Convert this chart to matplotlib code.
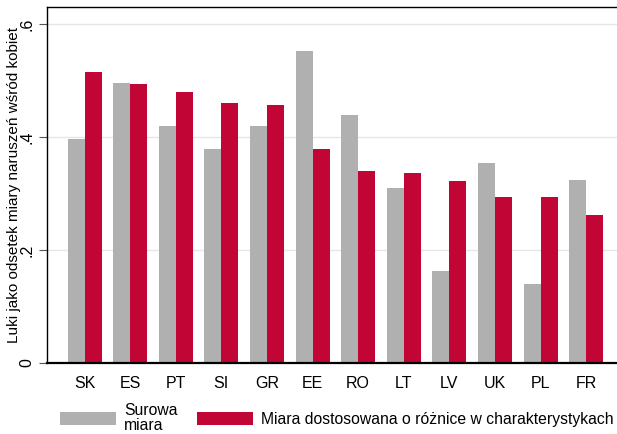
import numpy as np
import matplotlib.pyplot as plt

plt.rcParams['font.family'] = ['Liberation Sans', 'DejaVu Sans']

countries = ["SK", "ES", "PT", "SI", "GR", "EE", "RO", "LT", "LV", "UK", "PL", "FR"]
raw = [0.396, 0.496, 0.419, 0.379, 0.419, 0.552, 0.439, 0.310, 0.163, 0.354, 0.140, 0.324]
adjusted = [0.515, 0.493, 0.480, 0.460, 0.457, 0.379, 0.340, 0.336, 0.322, 0.294, 0.294, 0.262]
labels = ["Surowa\nmiara", "Miara dostosowana o różnice w charakterystykach"]
yticks = [0, 0.2, 0.4, 0.6]
ytick_labels = ["0", ".2", ".4", ".6"]

grey = "#b0b0b0"
red = "#c10534"

W, H = 617, 434
fig = plt.figure(figsize=(W / 100, H / 100), dpi=100)
# axes runs slightly past the right edge of the picture, as in the original
ax = fig.add_axes([47.3 / W, 71 / H, (624 - 47.3) / W, 356 / H])

x = np.arange(len(countries))
w = 0.373
ax.bar(x - w / 2, raw, width=w, color=grey, label=labels[0], zorder=2)
ax.bar(x + w / 2, adjusted, width=w, color=red, label=labels[1], zorder=2)

ax.set_xlim(-0.816, 11.83)
ax.set_ylim(0, 0.630)
ax.set_yticks(yticks)
ax.set_yticklabels(ytick_labels, rotation=90, va="center", fontsize=11.5)
ax.set_xticks(x)
ax.set_xticklabels(countries, fontsize=11.5)
ax.tick_params(axis="x", length=0, pad=9)
ax.tick_params(axis="y", length=6, color="#555555", pad=3)
ax.grid(axis="y", color="#e6e6e6", linewidth=1, zorder=0)
ax.set_ylabel("Luki jako odsetek miary naruszeń wśród kobiet", fontsize=11)
ax.yaxis.set_label_coords(-0.046, 0.5)

ax.spines["right"].set_visible(False)
ax.spines["bottom"].set_linewidth(1.6)
for s in ["left", "top"]:
    ax.spines[s].set_linewidth(1.0)

fig.legend(loc="center left", bbox_to_anchor=(60 / W, 16 / H), ncol=2, frameon=False,
           fontsize=11.3, handlelength=3.57, handleheight=0.96, handletextpad=0.5,
           columnspacing=1.27, borderpad=0, borderaxespad=0, labelspacing=0.2)
for t in fig.legends[0].get_texts():
    t.set_linespacing(1.0)

fig.savefig("out.png", dpi=100)
